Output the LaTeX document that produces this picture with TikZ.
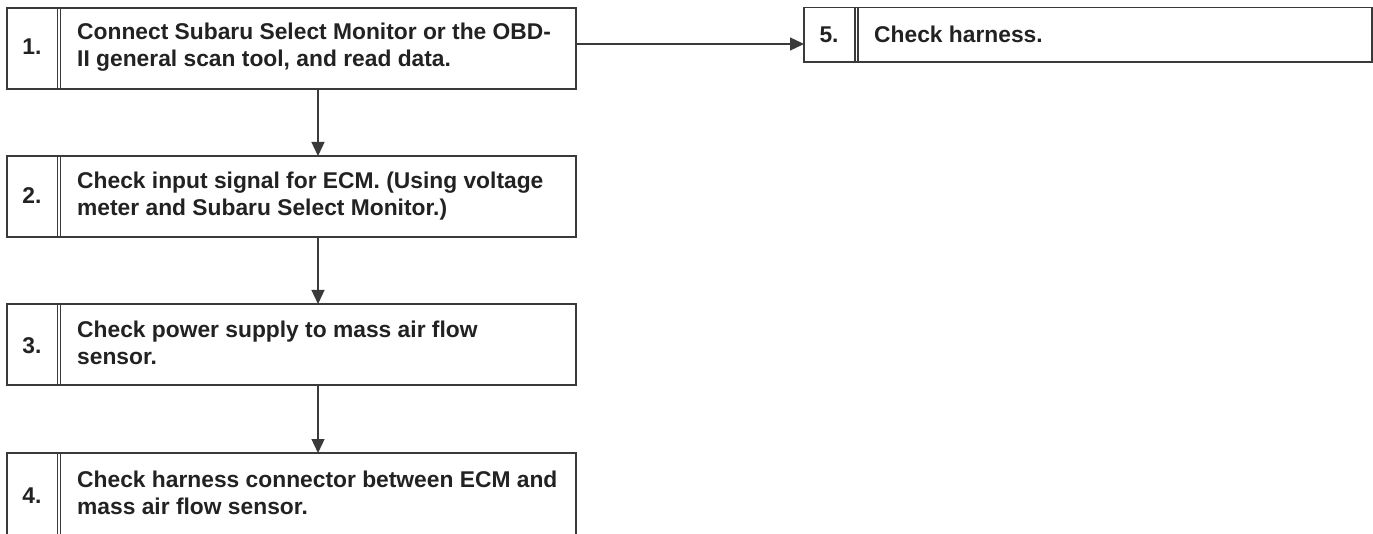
\documentclass[tikz,border=0pt]{standalone}
\usepackage{fontspec}
\setmainfont{Liberation Sans}
\usetikzlibrary{arrows.meta}
\definecolor{ln}{HTML}{3A3A3A}
\definecolor{tx}{HTML}{222222}
\begin{document}
\begin{tikzpicture}[x=1pt,y=-1pt,
  boxframe/.style={draw=ln,line width=1.6pt,minimum width=569pt,minimum height=81pt,anchor=north west,inner sep=0pt,outer sep=0pt},
  divline/.style={draw=ln,line width=1.1pt},
  numtxt/.style={font=\fontsize{22.8}{27}\selectfont\bfseries,text=tx,anchor=base,inner sep=0pt},
  bodytxt/.style={font=\fontsize{22.8}{27}\selectfont\bfseries,text=tx,anchor=base west,inner sep=0pt,align=left},
  arr/.style={draw=ln,line width=1.3pt,-{Triangle[length=14pt,width=13pt]}}]
\useasboundingbox (0,0) rectangle (1373,534);
% box 1
\node[boxframe] (b1) at (7,8) {};
\draw[divline] (57.5,8) -- (57.5,89) (60.5,8) -- (60.5,89);
\node[numtxt] (n1) at (32,55) {1.};
\node[bodytxt] (t1) at (77,40) {Connect Subaru Select Monitor or the OBD-};
\node[bodytxt] (t1b) at (77,67) {II general scan tool, and read data.};
% box 2
\node[boxframe] (b2) at (7,156) {};
\draw[divline] (57.5,156) -- (57.5,237) (60.5,156) -- (60.5,237);
\node[numtxt] (n2) at (32,204) {2.};
\node[bodytxt] (t2) at (77,189) {Check input signal for ECM. (Using voltage};
\node[bodytxt] (t2b) at (77,216) {meter and Subaru Select Monitor.)};
% box 3
\node[boxframe] (b3) at (7,304) {};
\draw[divline] (57.5,304) -- (57.5,385) (60.5,304) -- (60.5,385);
\node[numtxt] (n3) at (32,354) {3.};
\node[bodytxt] (t3) at (77,338) {Check power supply to mass air flow};
\node[bodytxt] (t3b) at (77,365) {sensor.};
% box 4 (open at the bottom)
\coordinate (b4nw) at (7,453);
\coordinate (b4ne) at (576,453);
\draw[ln,line width=1.6pt] (7,536) -- (b4nw) -- (b4ne) -- (576,536);
\draw[divline] (57.5,453) -- (57.5,536) (60.5,453) -- (60.5,536);
\node[numtxt] (n4) at (32,503) {4.};
\node[bodytxt] (t4) at (77,487) {Check harness connector between ECM and};
\node[bodytxt] (t4b) at (77,514) {mass air flow sensor.};
% box 5
\node[boxframe,minimum width=568pt,minimum height=54.5pt] (b5) at (804,7.5) {};
\draw[divline] (855,7.5) -- (855,62) (858,7.5) -- (858,62);
\node[numtxt] (n5) at (829,43) {5.};
\node[bodytxt] (t5) at (874,43) {Check harness.};
% connectors
\coordinate (ax) at (318,0);
\coordinate (hy) at (0,44);
\draw[arr] (b1.south -| ax) -- (b2.north -| ax);
\draw[arr] (b2.south -| ax) -- (b3.north -| ax);
\draw[arr] (b3.south -| ax) -- (b4nw -| ax);
\draw[arr] (b1.east |- hy) -- (b5.west |- hy);
\end{tikzpicture}
\end{document}
